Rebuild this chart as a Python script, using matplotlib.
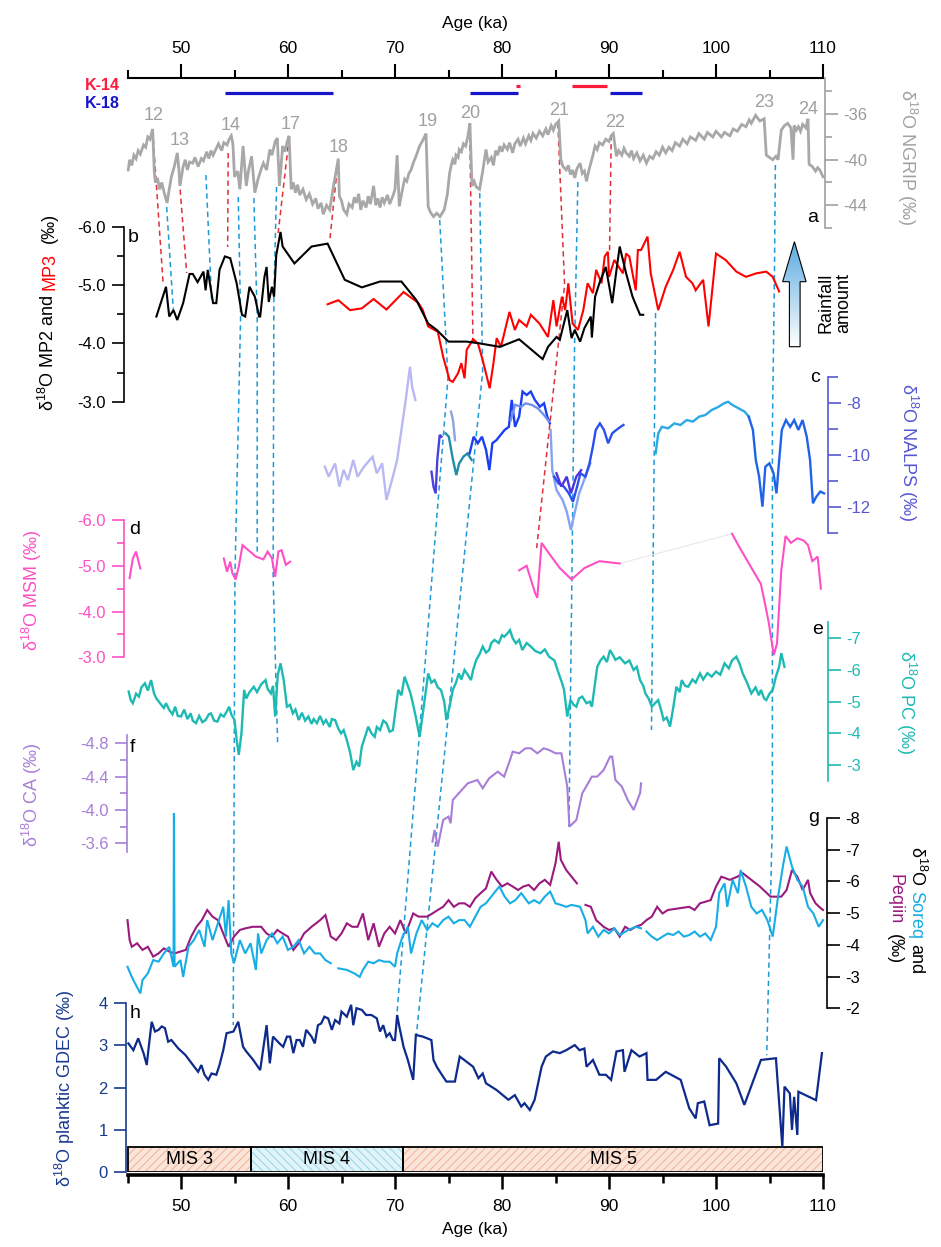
import numpy as np
import matplotlib
matplotlib.use('Agg')
import matplotlib.pyplot as plt
from matplotlib.patches import Rectangle, Polygon
from matplotlib.transforms import IdentityTransform

# Fonts
plt.rcParams['font.family'] = ['Liberation Sans', 'DejaVu Sans']
plt.rcParams['mathtext.fontset'] = 'custom'
plt.rcParams['mathtext.rm'] = 'Liberation Sans'
plt.rcParams['mathtext.it'] = 'Liberation Sans:italic'
plt.rcParams['hatch.linewidth'] = 0.6

# ---------------- data (age ka, d18O) ----------------
ngrip = [(45.07,-40.9),(45.2,-40.0),(45.4,-40.5),(45.6,-39.6),(45.8,-39.9),(46.0,-39.2),(46.2,-39.5),
         (46.5,-38.7),(46.7,-38.9),(46.9,-38.0),(47.1,-38.2),(47.35,-37.3),(47.5,-41.0),(47.6,-42.0),
         (47.8,-41.6),(48.0,-42.6),(48.2,-42.0),(48.4,-42.8),(48.7,-43.8),(48.9,-42.6),(49.1,-41.5),
         (49.4,-40.5),(49.65,-39.4),(49.8,-40.8),(49.9,-42.3),(50.2,-40.6),(50.4,-40.0),(50.6,-40.9),
         (50.8,-40.2),(51.1,-40.3),(51.3,-39.8),(51.6,-40.6),(51.9,-39.9),(52.1,-40.1),(52.4,-39.3),
         (52.6,-39.9),(52.8,-39.2),(53.0,-39.6),(53.3,-39.0),(53.5,-38.6),(53.8,-39.2),(54.0,-38.5),
         (54.3,-38.7),(54.5,-38.2),(54.7,-37.9),(54.85,-38.6),(55.0,-41.5),(55.3,-41.0),(55.5,-42.6),
         (55.8,-38.8),(56.1,-42.3),(56.3,-41.0),(56.6,-39.7),(56.9,-42.9),(57.2,-41.7),(57.5,-40.8),
         (57.7,-40.3),(58.0,-40.9),(58.3,-39.1),(58.5,-39.6),(58.8,-38.4),(59.0,-38.1),(59.2,-42.3),
         (59.5,-38.8),(59.7,-39.3),(59.9,-38.5),(60.1,-37.9),(60.3,-42.6),(60.5,-42.0),(60.7,-42.9),
         (60.9,-42.2),(61.1,-43.1),(61.4,-42.6),(61.7,-43.5),(62.0,-43.0),(62.3,-43.9),(62.6,-43.4),
         (62.8,-44.3),(63.1,-43.8),(63.3,-44.8),(63.6,-44.0),(63.9,-44.4),(64.2,-42.6),(64.5,-41.0),
         (64.7,-39.9),(64.8,-43.2),(65.0,-43.6),(65.2,-44.4),(65.5,-44.8),(65.7,-43.9),(66.0,-44.2),
         (66.2,-43.3),(66.4,-43.8),(66.6,-43.0),(66.8,-44.4),(67.0,-43.6),(67.3,-44.2),(67.5,-43.2),
         (67.7,-43.9),(68.0,-42.3),(68.2,-44.0),(68.4,-43.4),(68.6,-44.2),(68.8,-43.3),(69.0,-43.8),
         (69.3,-43.1),(69.5,-43.9),(69.8,-43.2),(70.0,-42.6),(70.2,-39.6),(70.4,-44.1),(70.7,-42.6),
         (70.9,-41.7),(71.1,-41.9),(71.3,-41.2),(71.5,-40.9),(71.7,-40.3),(72.0,-39.6),(72.3,-38.8),
         (72.6,-38.3),(72.9,-37.7),(73.1,-44.1),(73.3,-44.6),(73.6,-45.0),(73.9,-44.7),(74.2,-45.0),
         (74.6,-44.4),(74.9,-43.0),(75.1,-41.2),(75.3,-40.3),(75.4,-40.0),(75.6,-40.4),(75.7,-39.6),
         (75.9,-39.8),(76.0,-39.1),(76.2,-39.3),(76.4,-38.6),(76.6,-38.8),(76.8,-38.0),(77.0,-36.8),
         (77.2,-42.3),(77.4,-41.9),(77.6,-42.4),(77.9,-42.6),(78.2,-41.0),(78.5,-39.1),(78.7,-40.2),
         (79.0,-39.8),(79.2,-40.5),(79.4,-39.2),(79.6,-39.6),(79.8,-38.8),(80.0,-39.3),(80.2,-38.7),
         (80.5,-39.1),(80.7,-38.5),(81.0,-39.4),(81.2,-38.6),(81.5,-38.2),(81.7,-38.8),(82.0,-38.1),
         (82.2,-38.6),(82.5,-37.9),(82.7,-38.3),(82.9,-37.7),(83.2,-38.1),(83.5,-37.5),(83.8,-37.9),
         (84.1,-37.3),(84.3,-37.8),(84.6,-37.0),(84.8,-37.4),(85.0,-36.9),(85.3,-36.6),(85.5,-40.0),
         (85.7,-40.6),(86.0,-40.9),(86.2,-40.5),(86.4,-41.3),(86.6,-40.9),(86.8,-41.6),(87.0,-40.8),
         (87.3,-40.3),(87.5,-41.2),(87.7,-41.0),(87.9,-41.9),(88.1,-41.0),(88.3,-40.3),(88.5,-39.6),
         (88.7,-38.8),(88.9,-39.1),(89.1,-38.5),(89.4,-38.7),(89.7,-38.2),(90.0,-38.4),(90.2,-37.9),
         (90.4,-37.7),(90.7,-39.7),(90.9,-39.2),(91.2,-39.6),(91.4,-39.0),(91.6,-39.4),(91.9,-39.7),
         (92.1,-39.2),(92.3,-39.9),(92.6,-39.4),(92.9,-40.1),(93.2,-39.6),(93.5,-40.3),(93.8,-39.7),
         (94.1,-39.9),(94.4,-39.3),(94.7,-39.6),(95.0,-38.9),(95.3,-39.4),(95.6,-38.9),(95.9,-39.2),
         (96.2,-38.5),(96.6,-38.8),(96.9,-38.2),(97.3,-38.6),(97.6,-38.0),(98.1,-38.3),(98.4,-37.7),
         (98.9,-38.2),(99.2,-37.6),(99.7,-38.0),(100.0,-37.5),(100.5,-38.0),(100.8,-37.6),(101.3,-37.9),
         (101.6,-37.3),(102.0,-37.5),(102.4,-36.9),(102.8,-37.1),(103.1,-36.5),(103.3,-36.8),
         (103.7,-36.1),(104.1,-36.6),(104.5,-36.4),(104.7,-39.6),(105.0,-39.8),(105.3,-40.0),
         (105.6,-39.7),(105.8,-40.0),(106.1,-37.4),(106.4,-37.0),(106.7,-36.8),(107.0,-37.2),
         (107.2,-40.0),(107.3,-37.0),(107.5,-37.4),(107.7,-37.1),(107.9,-37.5),(108.1,-36.9),
         (108.4,-37.2),(108.6,-36.4),(108.7,-40.4),(109.0,-40.6),(109.3,-41.0),(109.5,-40.7),
         (109.7,-40.9),(110.0,-41.5)]
is_labels = ['12','13','14','17','18','19','20','21','22','23','24']
is_pos = [(47.4,-36.15),(49.84,-38.34),(54.64,-37.02),(60.24,-36.94),(64.75,-38.92),(73.09,-36.65),
          (77.04,-35.91),(85.32,-35.69),(90.61,-36.73),(104.52,-34.99),(108.57,-35.56)]

mp2 = [(47.7,-4.46),(48.3,-4.80),(48.6,-4.97),(48.9,-4.46),(49.3,-4.57),(49.65,-4.40),(50.2,-4.69),
       (50.8,-5.19),(51.1,-5.19),(51.55,-5.05),(52.1,-5.23),(52.3,-4.91),(52.5,-5.26),(53.0,-4.69),
       (53.3,-4.69),(53.6,-5.26),(54.1,-5.49),(54.6,-5.46),(55.2,-5.03),(55.7,-4.49),(56.0,-4.46),
       (56.4,-4.97),(56.9,-4.80),(57.3,-4.46),(57.4,-4.46),(57.8,-5.14),(58.0,-5.31),(58.2,-4.71),
       (58.5,-4.97),(58.7,-4.80),(58.9,-5.51),(59.3,-5.91),(59.5,-5.66),(60.6,-5.37),(62.2,-5.66),
       (63.7,-5.71),(65.3,-5.09),(66.9,-4.96),(68.6,-5.06),(70.6,-5.06),(72.0,-4.74),(73.1,-4.34),
       (73.9,-4.23),(75.0,-4.03),(76.7,-4.03),(77.9,-4.0),(79.8,-3.94),(81.6,-4.07),(83.8,-3.73),
       (84.3,-3.94),(85.1,-4.11),(85.4,-4.06),(86.1,-4.57),(86.5,-4.09),(86.8,-4.23),(87.3,-4.03),
       (87.7,-4.26),(88.3,-4.46),(88.4,-4.10),(88.7,-4.80),(89.1,-5.03),(89.7,-5.31),(90.3,-4.69),
       (90.7,-5.26),(91.0,-5.66),(91.6,-5.2),(92.2,-4.80),(92.9,-4.49),(93.2,-4.49)]
mp3 = [(63.7,-4.67),(64.7,-4.74),(65.8,-4.57),(66.9,-4.60),(68.0,-4.76),(69.2,-4.58),(70.8,-4.88),
       (72.2,-4.69),(72.6,-4.57),(73.1,-4.29),(74.0,-4.20),(74.5,-3.77),(75.1,-3.37),(75.4,-3.34),
       (75.9,-3.49),(76.2,-3.66),(76.5,-3.40),(76.7,-3.89),(77.3,-4.07),(77.75,-4.0),(78.2,-3.71),
       (78.85,-3.23),(79.2,-3.66),(79.5,-4.09),(79.9,-3.94),(80.7,-4.54),(81.2,-4.23),(81.6,-4.40),
       (82.3,-4.29),(82.7,-4.49),(83.5,-4.34),(84.3,-4.11),(84.8,-4.74),(85.1,-4.29),(85.6,-4.80),
       (85.9,-4.57),(86.2,-5.03),(86.6,-4.34),(87.1,-4.23),(87.6,-4.57),(88.0,-5.03),(88.5,-4.86),
       (88.8,-5.26),(89.3,-5.03),(89.6,-5.49),(89.9,-5.57),(90.0,-5.14),(90.5,-5.43),(91.3,-5.2),
       (91.6,-5.54),(91.9,-5.49),(92.5,-4.91),(92.7,-5.60),(93.0,-5.6),(93.6,-5.83),(93.9,-5.2),
       (94.6,-4.57),(95.3,-4.97),(96.0,-5.26),(96.6,-5.57),(97.2,-5.14),(97.8,-5.03),(98.1,-4.91),
       (98.8,-5.09),(99.3,-4.29),(100.0,-5.54),(100.9,-5.43),(101.9,-5.23),(102.8,-5.14),
       (103.75,-5.2),(104.7,-5.23),(105.3,-5.14),(105.9,-4.89)]

# NALPS pieces
nalps_lav = [(63.44,-10.45),(63.8,-10.83),(64.4,-10.32),(64.8,-11.21),(65.2,-10.57),(65.6,-10.96),
             (66.1,-10.19),(66.5,-10.83),(67.1,-10.45),(67.9,-10.07),(68.3,-10.70),(68.8,-10.32),
             (69.2,-11.72),(69.8,-10.83),(70.2,-10.19),(70.6,-9.04),(71.0,-7.89),(71.4,-6.62),
             (71.6,-7.38),(71.9,-7.89)]
nalps_dk = [(73.41,-10.64),(73.6,-11.21),(73.8,-11.47),(73.95,-10.19),(74.18,-9.23),(74.34,-9.30)]
nalps_gr = [(75.23,-8.34),(75.42,-8.66),(75.61,-9.43)]
nalps_teal = [(74.73,-9.17),(75.03,-9.3),(75.42,-10.19),(75.73,-10.77),(76.0,-10.32),(76.4,-10.06),
              (76.77,-9.94),(77.16,-10.19)]
nalps_blue = [(76.97,-9.94),(77.35,-9.3),(77.74,-9.55),(78.13,-9.3),(78.51,-9.81),(78.82,-10.58),
              (79.1,-9.55),(79.48,-9.43),(79.87,-9.23),(80.25,-9.04),(80.64,-8.92),(80.91,-7.89),
              (81.22,-8.92),(81.6,-8.53),(81.92,-7.57),(82.3,-7.7),(82.69,-7.57),(83.07,-7.89),
              (83.54,-8.15),(83.93,-8.02),(84.23,-8.53),(84.47,-8.79)]
nalps_lb = [(80.83,-8.66),(81.22,-8.08),(81.8,-8.15),(82.19,-8.02),(82.77,-8.08),(83.35,-8.21),
            (83.93,-8.47),(84.39,-8.72)]
nalps_peri = [(84.54,-9.04),(84.7,-10.58),(85.09,-11.34),(85.67,-11.73),(86.05,-12.17),(86.44,-12.87),
              (86.71,-12.36),(87.21,-11.47),(87.79,-10.83),(88.26,-10.32)]
nalps_b2 = [(84.89,-10.83),(85.28,-11.09),(85.78,-11.21),(86.25,-11.47),(86.63,-11.79),(87.02,-11.21),
            (87.33,-10.7),(87.79,-10.83),(88.18,-10.32),(88.49,-9.68),(88.76,-9.04),(89.15,-8.79),
            (89.53,-9.04),(89.92,-9.55),(90.3,-9.17),(90.69,-9.04),(91.08,-8.92),(91.35,-8.85)]
nalps_pb = [(85.09,-10.7),(85.55,-11.21),(86.05,-10.83),(86.44,-11.47),(86.94,-10.83),(87.4,-10.58)]
nalps_cy = [(94.36,-9.94),(94.6,-9.17),(94.94,-8.92),(95.52,-8.98),(96.1,-8.79),(96.68,-8.85),
            (97.26,-8.66),(97.84,-8.72),(98.42,-8.53),(99.0,-8.47),(99.58,-8.28),(100.16,-8.17),
            (100.74,-8.02),(101.13,-7.96),(101.52,-8.08),(102.1,-8.21),(102.68,-8.34),(103.06,-8.53)]
nalps_b3 = [(103.06,-8.53),(103.45,-9.04),(103.72,-10.19),(104.03,-10.83),(104.34,-11.98),
            (104.61,-10.45),(104.99,-10.32),(105.38,-10.7),(105.65,-11.47),(105.88,-10.32),
            (106.15,-9.04),(106.54,-8.66),(106.93,-8.92),(107.31,-8.66),(107.7,-9.04),(108.09,-8.66),
            (108.48,-9.3),(108.79,-10.19),(109.06,-11.85),(109.37,-11.6),(109.75,-11.4),(110.1,-11.47)]

msm_1 = [(45.2,-4.73),(45.5,-5.16),(45.8,-5.31),(46.2,-4.94)]
msm_2 = [(54.0,-5.16),(54.3,-4.87),(54.6,-5.09),(54.8,-4.84),(55.1,-4.70),(55.4,-4.98),(55.75,-5.45),
         (56.3,-5.34),(57.0,-5.20),(57.7,-5.14),(58.1,-5.31),(58.5,-5.16),(58.8,-4.76),(59.1,-5.31),
         (59.4,-5.34),(59.8,-5.02),(60.2,-5.09)]
msm_3 = [(81.6,-4.9),(82.3,-5.0),(83.1,-4.4),(83.3,-4.3),(83.7,-5.5),(84.3,-5.3),(85.4,-4.95),
         (86.5,-4.7),(87.7,-4.95),(89.1,-5.1),(91.0,-5.05)]
msm_4 = [(101.5,-5.7),(102.2,-5.4),(103.2,-5.0),(104.2,-4.6),(104.9,-3.8),(105.4,-3.05),(105.7,-3.3),
         (106.1,-4.9),(106.5,-5.65),(107.0,-5.5),(107.6,-5.6),(108.2,-5.55),(108.6,-5.45),(109.0,-5.1),
         (109.5,-5.2),(109.8,-4.5)]

pc = [(45.11,-5.32),(45.3,-5.05),(45.5,-4.95),(45.8,-5.25),(46.07,-5.16),(46.3,-5.45),(46.63,-5.58),
      (46.9,-5.35),(47.2,-5.68),(47.48,-5.26),(47.7,-5.1),(48.04,-4.95),(48.4,-4.8),(48.6,-4.95),
      (48.9,-4.74),(49.2,-4.6),(49.45,-4.84),(49.7,-4.55),(50.0,-4.53),(50.3,-4.75),(50.6,-4.45),
      (50.9,-4.63),(51.1,-4.4),(51.4,-4.32),(51.7,-4.55),(52.0,-4.35),(52.3,-4.42),(52.6,-4.6),
      (52.8,-4.63),(53.1,-4.4),(53.4,-4.37),(53.7,-4.6),(54.0,-4.53),(54.3,-4.7),(54.5,-4.84),
      (54.7,-4.6),(55.0,-4.42),(55.2,-3.79),(55.4,-3.32),(55.65,-4.0),(55.9,-5.37),(56.1,-5.1),
      (56.4,-5.3),(56.8,-5.47),(57.1,-5.3),(57.5,-5.55),(57.9,-5.68),(58.1,-5.4),(58.4,-5.26),
      (58.6,-5.5),(58.8,-4.53),(59.04,-5.84),(59.3,-6.21),(59.6,-5.68),(59.9,-4.84),(60.2,-4.9),
      (60.45,-4.63),(60.7,-4.75),(61.0,-4.42),(61.3,-4.65),(61.6,-4.4),(61.9,-4.53),(62.2,-4.3),
      (62.4,-4.45),(62.7,-4.32),(63.0,-4.55),(63.3,-4.3),(63.55,-4.42),(63.9,-4.2),(64.1,-4.45),
      (64.4,-4.42),(64.7,-4.15),(64.96,-4.0),(65.2,-4.1),(65.5,-3.79),(65.8,-3.4),(66.1,-2.84),
      (66.4,-3.1),(66.65,-2.95),(66.9,-3.58),(67.2,-3.9),(67.5,-4.21),(67.8,-4.0),(68.1,-3.89),
      (68.3,-4.2),(68.6,-4.1),(68.9,-4.4),(69.2,-4.32),(69.5,-4.05),(69.8,-4.1),(70.0,-4.6),
      (70.3,-5.37),(70.6,-5.2),(70.9,-5.79),(71.2,-5.5),(71.45,-5.26),(71.7,-4.9),(72.0,-4.42),
      (72.3,-3.89),(72.6,-4.63),(72.9,-5.4),(73.1,-5.89),(73.4,-5.6),(73.7,-5.68),(74.0,-5.45),
      (74.3,-5.37),(74.6,-5.0),(74.8,-4.42),(75.1,-4.84),(75.4,-5.37),(75.7,-5.6),(75.96,-5.89),
      (76.2,-5.7),(76.5,-6.0),(76.8,-5.85),(77.1,-5.68),(77.3,-6.0),(77.6,-6.32),(77.9,-6.5),
      (78.2,-6.74),(78.5,-6.55),(78.8,-6.63),(79.0,-6.85),(79.3,-6.95),(79.7,-6.85),(80.0,-7.1),
      (80.2,-7.05),(80.5,-7.15),(80.75,-7.26),(81.0,-7.0),(81.3,-6.84),(81.6,-6.95),(81.9,-6.63),
      (82.3,-6.85),(82.7,-6.74),(83.1,-6.6),(83.6,-6.53),(84.0,-6.65),(84.4,-6.42),(84.9,-6.3),
      (85.3,-5.89),(85.6,-5.6),(85.8,-5.37),(86.1,-4.53),(86.4,-5.05),(86.7,-4.9),(86.95,-4.84),
      (87.2,-5.1),(87.5,-5.16),(87.9,-4.95),(88.2,-5.0),(88.4,-4.84),(88.7,-5.6),(88.9,-6.1),
      (89.2,-6.3),(89.5,-6.42),(89.8,-6.25),(90.1,-6.63),(90.4,-6.45),(90.6,-6.32),(91.0,-6.4),
      (91.5,-6.21),(91.9,-6.3),(92.3,-6.0),(92.6,-6.1),(92.9,-5.68),(93.2,-5.5),(93.4,-5.26),
      (93.7,-5.1),(94.0,-4.84),(94.3,-4.95),(94.6,-5.05),(94.9,-4.7),(95.1,-4.42),(95.4,-4.5),
      (95.7,-4.21),(96.0,-4.8),(96.3,-5.47),(96.6,-5.3),(96.8,-5.68),(97.1,-5.5),(97.4,-5.47),
      (97.8,-5.7),(98.1,-5.6),(98.5,-5.89),(98.8,-5.7),(99.2,-5.9),(99.6,-5.79),(100.0,-5.95),
      (100.4,-5.85),(100.8,-6.21),(101.2,-6.05),(101.5,-6.3),(101.9,-6.42),(102.2,-6.2),
      (102.5,-5.89),(102.9,-5.6),(103.3,-5.26),(103.7,-5.45),(104.0,-5.2),(104.2,-5.37),
      (104.5,-5.1),(104.7,-5.05),(105.0,-5.25),(105.3,-5.37),(105.6,-5.79),(105.9,-6.1),
      (106.1,-6.53),(106.4,-6.1)]

ca = [(73.5,-3.62),(73.7,-3.76),(74.0,-3.56),(74.5,-3.88),(75.0,-3.92),(75.2,-3.84),(75.4,-4.12),
      (75.96,-4.2),(76.8,-4.32),(77.7,-4.36),(78.2,-4.26),(78.8,-4.38),(79.6,-4.46),(80.2,-4.4),
      (80.75,-4.6),(81.0,-4.7),(81.6,-4.68),(82.2,-4.74),(82.7,-4.74),(83.3,-4.68),(83.9,-4.74),
      (84.4,-4.72),(85.0,-4.68),(85.55,-4.68),(86.1,-4.28),(86.3,-3.8),(86.95,-3.88),(87.5,-4.2),
      (88.4,-4.4),(88.9,-4.4),(89.5,-4.48),(90.1,-4.64),(90.3,-4.64),(90.6,-4.36),(91.2,-4.28),
      (91.75,-4.12),(92.3,-4.0),(92.9,-4.2),(93.0,-4.32)]

peqiin_1 = [(45.0,-4.78),(45.2,-4.15),(45.4,-3.94),(45.9,-4.05),(46.4,-3.84),(46.9,-3.94),(47.4,-3.63),
            (47.9,-3.73),(48.4,-3.89),(48.9,-3.79),(49.4,-3.73),(49.95,-3.79),(50.45,-3.84),(50.95,-4.26),
            (51.45,-4.57),(51.95,-4.78),(52.45,-5.1),(52.95,-4.89),(53.45,-4.78),(53.95,-4.36),
            (54.45,-3.94),(54.95,-4.26),(55.5,-4.47),(56.0,-4.52),(56.7,-4.57),(57.5,-4.57),(58.0,-4.36),
            (58.5,-4.26),(59.0,-4.47),(59.5,-4.36),(60.0,-4.26),(60.5,-3.84),(61.0,-4.05),(61.5,-4.36),
            (62.2,-4.57),(63.0,-4.78),(63.5,-4.94),(64.0,-4.26),(64.5,-4.15),(65.0,-4.36),(65.5,-4.68),
            (66.0,-4.57),(66.5,-4.57),(67.0,-4.99),(67.5,-4.15),(68.0,-4.68),(68.5,-3.94),(69.0,-4.36),
            (69.5,-4.57),(70.0,-4.36),(70.5,-4.78),(71.0,-4.36),(71.7,-4.99),(72.2,-4.89),(73.0,-4.89),
            (73.5,-4.99),(74.0,-5.1),(74.5,-5.2),(75.0,-5.41),(75.5,-5.2),(76.0,-5.31),(76.5,-5.31),
            (77.0,-5.2),(77.5,-5.47),(78.0,-5.63),(78.5,-5.78),(79.0,-6.31),(79.5,-6.05),(80.0,-5.84),
            (80.5,-5.94),(81.0,-5.84),(81.5,-5.73),(82.0,-5.84),(82.5,-5.89),(83.0,-5.73),(83.5,-5.94),
            (84.0,-6.05),(84.5,-5.89),(85.0,-6.57),(85.3,-7.25),(85.5,-6.68),(86.0,-6.36),(86.5,-6.15),
            (87.0,-5.94)]
peqiin_2 = [(87.8,-5.26),(88.3,-5.2),(88.8,-4.78),(89.5,-4.57),(90.0,-4.47),(90.5,-4.52),(91.0,-4.26),
            (91.5,-4.57),(92.0,-4.47),(92.5,-4.57),(93.0,-4.63),(93.5,-4.78),(94.0,-4.89),(94.5,-5.2),
            (95.0,-4.99),(95.5,-5.1),(96.5,-5.15),(97.5,-5.2),(98.0,-5.1),(98.5,-5.31),(99.5,-5.41),
            (100.0,-5.84),(100.5,-6.15),(101.3,-6.05),(102.0,-6.15),(102.5,-6.26),(103.3,-6.05),
            (104.1,-5.84),(105.1,-5.52),(106.1,-5.52),(106.6,-5.73),(107.1,-6.36),(107.6,-6.15),
            (108.1,-5.73),(108.6,-6.05),(108.8,-5.63),(109.3,-5.31),(109.8,-5.15),(110.0,-5.1)]
soreq_1 = [(45.0,-3.31),(45.4,-2.99),(45.7,-2.79),(46.2,-2.47),(46.4,-2.89),(46.9,-3.1),(47.4,-3.52),
           (47.9,-3.47),(48.4,-3.73),(48.9,-3.94),(49.3,-3.31),(49.34,-8.15),(49.4,-3.31),(49.95,-3.52),
           (50.2,-2.99),(50.7,-3.94),(51.2,-4.15),(51.7,-4.47),(52.2,-3.94),(52.45,-4.78),(52.95,-4.15),
           (53.45,-4.68),(53.95,-5.2),(54.2,-4.26),(54.45,-5.41),(54.7,-3.73),(54.95,-3.42),(55.5,-4.15),
           (56.0,-3.73),(56.5,-4.05),(57.0,-3.21),(57.2,-4.36),(57.5,-3.73),(58.0,-4.15),(58.5,-4.36),
           (59.0,-4.05),(59.5,-4.26),(60.0,-3.84),(60.5,-3.94),(61.0,-4.15),(61.5,-3.73),(62.0,-3.94),
           (62.5,-3.73),(63.0,-3.73),(63.5,-3.52),(64.0,-3.42)]
soreq_2 = [(64.7,-3.26),(65.5,-3.21),(66.2,-3.1),(66.7,-2.99),(67.0,-3.21),(67.5,-3.47),(68.0,-3.42),
           (68.5,-3.52),(69.0,-3.47),(69.5,-3.47),(70.0,-3.31),(70.2,-3.73),(70.7,-4.26),(71.2,-4.57),
           (71.5,-3.73),(72.0,-4.36),(72.5,-4.78),(73.0,-4.47),(73.5,-4.68),(74.0,-4.57),(74.5,-4.78),
           (75.0,-4.89),(75.5,-4.68),(76.0,-4.78),(76.5,-4.78),(77.0,-4.57),(77.5,-4.89),(78.0,-5.2),
           (78.5,-5.31),(79.25,-5.63),(79.75,-5.84),(80.25,-5.52),(80.75,-5.31),(81.25,-5.41),
           (81.8,-5.63),(82.5,-5.31),(83.0,-5.41),(83.5,-5.31),(84.0,-5.52),(84.5,-5.68),(85.0,-5.31),
           (85.5,-5.26),(86.0,-5.2),(86.5,-5.26),(87.3,-5.2),(87.8,-4.78),(88.0,-4.36),(88.5,-4.57),
           (89.0,-4.26),(89.5,-4.47),(90.0,-4.36),(90.5,-4.52),(91.0,-4.31),(91.8,-4.47),(92.5,-4.57),
           (93.0,-4.52)]
soreq_3 = [(93.5,-4.42),(94.0,-4.26),(94.5,-4.15),(95.0,-4.26),(95.5,-4.36),(96.0,-4.31),(96.5,-4.42),
           (97.0,-4.26),(97.5,-4.31),(98.0,-4.42),(98.5,-4.26),(99.0,-4.36),(99.5,-4.15),(100.0,-4.57),
           (100.3,-5.63),(100.8,-5.94),(101.05,-5.2),(101.55,-6.05),(102.05,-5.63),(102.3,-6.36),
           (102.8,-5.84),(103.3,-5.2),(103.8,-4.99),(104.3,-5.1),(104.8,-4.78),(105.3,-4.26),
           (105.8,-5.52),(106.3,-6.57),(106.6,-7.1),(107.1,-6.47),(107.6,-6.05),(108.1,-5.84),
           (108.6,-5.2),(109.1,-4.99),(109.6,-4.57),(110.0,-4.78)]

gdec = [(45.08,3.04),(45.55,2.88),(46.0,3.16),(46.5,2.81),(46.8,2.53),(46.95,2.88),(47.26,3.55),
        (47.57,3.32),(47.9,3.36),(48.2,3.44),(48.5,3.40),(48.8,3.08),(49.1,3.12),(49.75,2.92),
        (50.4,2.77),(51.0,2.57),(51.6,2.37),(51.9,2.53),(52.2,2.30),(52.55,2.18),(52.85,2.33),
        (53.3,2.30),(53.6,2.53),(53.95,2.88),(54.26,3.28),(54.9,3.32),(55.35,3.55),(55.8,2.96),
        (56.1,2.85),(56.75,2.65),(57.4,2.41),(58.0,3.47),(58.3,2.57),(58.6,3.20),(59.2,3.04),
        (59.55,2.96),(59.9,3.20),(60.2,3.20),(60.5,2.81),(60.8,3.12),(61.1,3.12),(61.4,2.96),
        (61.7,3.36),(62.2,3.20),(62.5,3.04),(62.8,3.47),(63.1,3.51),(63.4,3.67),(63.75,3.63),
        (64.1,3.36),(64.4,3.59),(64.8,3.51),(65.0,3.79),(65.5,3.67),(65.9,3.95),(66.1,3.47),
        (66.4,3.87),(66.9,3.83),(67.3,3.71),(67.8,3.71),(68.3,3.63),(68.6,3.32),(68.9,3.47),
        (69.2,3.20),(69.5,3.28),(69.8,3.12),(70.0,3.12),(70.2,3.71),(70.4,3.44),(70.8,2.96),
        (71.2,2.65),(71.7,2.18),(71.95,3.24),(72.6,3.20),(73.4,3.12),(73.6,2.65),(73.9,2.49),
        (74.2,2.37),(74.8,2.14),(75.6,2.14),(76.05,2.73),(77.3,2.49),(77.8,2.22),(78.2,2.33),
        (78.5,2.10),(79.5,1.94),(80.6,1.71),(81.2,1.82),(81.8,1.55),(82.1,1.63),(82.6,1.47),
        (83.05,1.71),(83.7,2.49),(84.1,2.73),(84.76,2.85),(85.4,2.81),(86.0,2.88),(86.8,3.0),
        (87.25,2.88),(87.7,2.92),(87.9,2.49),(88.5,2.65),(89.1,2.30),(89.7,2.30),(90.2,2.18),
        (90.7,2.85),(91.3,2.88),(91.45,2.37),(92.1,2.88),(92.85,2.73),(93.5,2.81),(93.6,2.18),
        (94.4,2.18),(95.3,2.37),(96.1,2.26),(96.7,2.18),(97.5,1.51),(98.1,1.27),(98.3,1.63),
        (98.9,1.67),(99.4,1.11),(100.2,1.15),(100.3,2.69),(100.95,2.49),(101.9,2.10),(102.65,1.59),
        (104.2,2.65),(105.6,2.69),(106.2,0.6),(106.4,2.02),(106.9,1.86),(107.1,1.0),(107.3,1.78),
        (107.6,0.88),(107.7,1.90),(109.35,1.70),(109.9,2.81)]

# marine isotope stages and U-Th sample age windows
mis_names = ['MIS 3', 'MIS 4', 'MIS 5']
mis_bounds = [(45.0, 56.5), (56.5, 70.75), (70.75, 110.0)]
k14_spans = [(81.35, 81.65), (86.5, 89.8)]
k18_spans = [(54.1, 64.2), (77.0, 81.5), (90.1, 93.1)]

# tie points (age, figure row in px) for the dashed correlation lines
ties_red = [[(47.35,130),(48.34,285)], [(49.65,153),(50.53,273)], [(54.41,153),(54.36,247)],
            [(60.11,137),(59.08,233)], [(64.68,160),(63.91,240)], [(76.98,127),(77.29,343)],
            [(85.22,123),(85.85,285),(83.24,548)], [(90.21,135),(90.05,253)]]
ties_blue = [[(48.66,207),(49.28,310)], [(52.33,175),(52.86,300)],
             [(55.35,197),(55.57,317),(55.04,577),(54.88,1025)],
             [(56.81,198),(57.12,317),(57.12,553)],
             [(58.93,187),(58.68,297),(58.61,577),(59.03,743)],
             [(74.18,220),(74.95,378),(70.19,1013)], [(77.92,193),(78.19,372),(72.0,1035)],
             [(87.09,182),(86.78,347),(86.26,827)], [(94.35,313),(93.97,730)],
             [(105.55,165),(105.46,276),(105.27,430),(105.27,820),(104.74,1055)]]

# ---------------- layout ----------------
W, H = 941, 1247
X0, X1 = 127.5, 823.0
PPK = (X1 - X0) / 65.0

fig = plt.figure(figsize=(W / 100, H / 100), dpi=100)
fig.patch.set_facecolor('white')

ov = fig.add_axes([0, 0, 1, 1], zorder=0)
ov.set_xlim(45 - X0 / PPK, 45 + (W - X0) / PPK)
ov.set_ylim(H, 0)
ov.axis('off')


def panel(top, bottom, ylim):
    ax = fig.add_axes([X0 / W, 1 - bottom / H, (X1 - X0) / W, (bottom - top) / H], zorder=1)
    ax.set_xlim(45, 110)
    ax.set_ylim(*ylim)
    ax.patch.set_visible(False)
    for s in ax.spines.values():
        s.set_visible(False)
    ax.tick_params(axis='both', which='both', bottom=False, labelbottom=False, left=False,
                   labelleft=False, top=False, labeltop=False, right=False, labelright=False)
    return ax


def yaxis(ax, side, color, offset, major, minor, labels, bounds=None, tcolor=None):
    sp = ax.spines[side]
    sp.set_visible(True)
    sp.set_color(color)
    sp.set_linewidth(1.2)
    sp.set_position(('outward', offset))
    if bounds:
        sp.set_bounds(*bounds)
    ax.set_yticks(major)
    ax.set_yticklabels(labels)
    ax.set_yticks(minor, minor=True)
    left = side == 'left'
    ax.tick_params(axis='y', which='both', left=left, labelleft=left, right=not left,
                   labelright=not left, direction='out', width=1.2, color=color,
                   labelcolor=tcolor or color, labelsize=12, pad=4)
    ax.tick_params(axis='y', which='major', length=9)
    ax.tick_params(axis='y', which='minor', length=5)


def plot(ax, data, color, lw=1.3, z=3):
    a, v = np.array(data).T
    ax.plot(a, v, color=color, lw=lw, clip_on=False, zorder=z, solid_joinstyle='miter')


# a: NGRIP
ax_a = panel(78, 228, (-45.95, -32.82))
yaxis(ax_a, 'right', '#a0a0a0', 1.4, [-36, -40, -44], [-34, -38, -42, -46],
      ['-36', '-40', '-44'], tcolor='#9a9a9a')
ax_a.spines['top'].set_visible(True)
ax_a.spines['top'].set_linewidth(1.5)
ax_a.set_xticks(range(50, 111, 10))
ax_a.set_xticks(range(45, 110, 10), minor=True)
ax_a.tick_params(axis='x', which='both', top=True, labeltop=True, direction='out', width=1.5,
                 labelsize=12.5, pad=6)
ax_a.tick_params(axis='x', which='major', length=10)
ax_a.tick_params(axis='x', which='minor', length=6)
ax_a.xaxis.set_label_position('top')
ax_a.set_xlabel('Age (ka)', fontsize=12.5, labelpad=9)
plot(ax_a, ngrip, '#a8a8a8', lw=2.0)
for lab, (x, y) in zip(is_labels, is_pos):
    ax_a.text(x, y, lab, color='#a0a0a0', fontsize=13, ha='center', va='center')

# b: MP2 / MP3
ax_b = panel(226.7, 401.7, (-3.0, -6.0))
yaxis(ax_b, 'left', 'black', 2.5, [-6, -5, -4, -3], [-5.5, -4.5, -3.5],
      ['-6.0', '-5.0', '-4.0', '-3.0'])
plot(ax_b, mp3, '#ff0000', lw=1.5, z=3)
plot(ax_b, mp2, 'black', lw=1.5, z=4)

# c: NALPS
ax_c = panel(376.7, 533.3, (-13, -7))
yaxis(ax_c, 'right', '#5656d4', 3.6, [-8, -10, -12], [-7, -9, -11, -13], ['-8', '-10', '-12'])
ax_c.tick_params(axis='y', which='minor', length=7)
for seg, col in [(nalps_lav, '#b8b8f2'), (nalps_dk, '#4b3fe0'), (nalps_gr, '#8fa3dd'),
                 (nalps_teal, '#1f8ca8'), (nalps_blue, '#1a3ff2'), (nalps_lb, '#7090f0'),
                 (nalps_peri, '#86a2f2'), (nalps_b2, '#2a4ff0'), (nalps_pb, '#4a35e0'),
                 (nalps_cy, '#29aae6'), (nalps_b3, '#1f63ea')]:
    plot(ax_c, seg, col, lw=1.7)

# d: MSM
ax_d = panel(520, 657.3, (-3.0, -6.0))
yaxis(ax_d, 'left', '#ff4fc6', 2.5, [-6, -5, -4, -3], [-5.5, -4.5, -3.5],
      ['-6.0', '-5.0', '-4.0', '-3.0'])
for seg in (msm_1, msm_2, msm_3, msm_4):
    plot(ax_d, seg, '#ff4fc6', lw=1.5)
gap_a, gap_v = np.array([msm_3[-1], msm_4[0]]).T
ax_d.plot(gap_a, gap_v, color='#e8e8e8', lw=0.8, zorder=2)

# e: PC
ax_e = panel(638.3, 765, (-3, -7))
yaxis(ax_e, 'right', '#1dbab3', 3.6, [-7, -6, -5, -4, -3], [], ['-7', '-6', '-5', '-4', '-3'],
      bounds=(-7.5, -2.5))
plot(ax_e, pc, '#1dbab3', lw=1.7)

# f: CA
ax_f = panel(743.3, 843.3, (-3.6, -4.8))
yaxis(ax_f, 'left', '#a77fd8', 0.4, [-4.8, -4.4, -4.0, -3.6], [-4.6, -4.2, -3.8],
      ['-4.8', '-4.4', '-4.0', '-3.6'], bounds=(-4.9, -3.5))
plot(ax_f, ca, '#a77fd8', lw=1.5)

# g: Soreq and Peqiin
ax_g = panel(818, 1008.3, (-2, -8))
yaxis(ax_g, 'right', 'black', 2.9, [-8, -7, -6, -5, -4, -3, -2], [],
      ['-8', '-7', '-6', '-5', '-4', '-3', '-2'])
for seg in (peqiin_1, peqiin_2):
    plot(ax_g, seg, '#9a1a7e', lw=1.5, z=3)
for seg in (soreq_1, soreq_2, soreq_3):
    plot(ax_g, seg, '#17ade6', lw=1.5, z=4)

# h: GDEC + bottom age axis
ax_h = panel(1002.7, 1172.3, (0, 4))
yaxis(ax_h, 'left', '#1a3a8f', 1.1, [0, 1, 2, 3, 4], [], ['0', '1', '2', '3', '4'])
ax_h.spines['bottom'].set_visible(True)
ax_h.spines['bottom'].set_linewidth(2.6)
ax_h.spines['bottom'].set_position(('outward', 2))
ax_h.set_xticks(range(50, 111, 10))
ax_h.set_xticks(range(45, 110, 10), minor=True)
ax_h.tick_params(axis='x', which='both', bottom=True, labelbottom=True, direction='out',
                 width=1.8, labelsize=12.5, pad=7)
ax_h.tick_params(axis='x', which='major', length=10)
ax_h.tick_params(axis='x', which='minor', length=6)
ax_h.set_xlabel('Age (ka)', fontsize=12.5, labelpad=6)
hatch_face = {'MIS 3': ('#fbe4d8', '#eea98a', '////'), 'MIS 4': ('#dff3f8', '#8ccfe3', '\\\\\\\\'),
              'MIS 5': ('#fbe4d8', '#eea98a', '////')}
for name, (s, e) in zip(mis_names, mis_bounds):
    fc, hc, hatch = hatch_face[name]
    ax_h.add_patch(Rectangle((s, 0), e - s, 0.6, facecolor=fc, edgecolor=hc, hatch=hatch, lw=0,
                             zorder=2))
    ax_h.add_patch(Rectangle((s, 0), e - s, 0.6, facecolor='none', edgecolor='black', lw=1.3,
                             zorder=2.5))
    ax_h.text((s + e) / 2, 0.3, name, ha='center', va='center', fontsize=13, zorder=3)
plot(ax_h, gdec, '#0d2a8c', lw=1.6, z=4)

# ---------------- overlay: ties, bars, arrow, labels ----------------
for line in ties_red:
    a, y = np.array(line).T
    ov.plot(a, y, color='#e0303c', lw=1.1, dashes=(3.5, 2.5))
for line in ties_blue:
    a, y = np.array(line).T
    ov.plot(a, y, color='#1e9ad8', lw=1.1, dashes=(3.5, 2.5))

for s, e in k14_spans:
    ov.plot([s, e], [85.5, 85.5], color='#ff1a3c', lw=2.3, solid_capstyle='butt')
for s, e in k18_spans:
    ov.plot([s, e], [93, 93], color='#1515cc', lw=2.3, solid_capstyle='butt')
ov.text(44.3, 85, 'K-14', color='#ff1a3c', fontsize=11.5, fontweight='bold', ha='right', va='center')
ov.text(44.3, 103, 'K-18', color='#1515cc', fontsize=11.5, fontweight='bold', ha='right', va='center')

# rainfall arrow with a vertical blue-to-white gradient
arrow_pts = [(107.33, 241.7), (108.42, 281.7), (107.86, 281.7), (107.86, 346.7), (106.86, 346.7),
             (106.86, 281.7), (106.23, 281.7)]
poly = Polygon(arrow_pts, closed=True, facecolor='none', edgecolor='black', lw=0.8, zorder=3)
ov.add_patch(poly)
t = np.linspace(0, 1, 200)[:, None, None]
top_col = np.array([0.36, 0.67, 0.88])
grad = (1 - t) * top_col + t * np.array([1.0, 1.0, 1.0])
im = ov.imshow(grad, extent=(106.2, 108.45, 346.7, 241.7), origin='upper', aspect='auto', zorder=2)
im.set_clip_path(poly)
ov.set_xlim(45 - X0 / PPK, 45 + (W - X0) / PPK)
ov.set_ylim(H, 0)
ov.text(111.1, 303, 'Rainfall\namount', rotation=90, ha='center', va='center', multialignment='left',
        fontsize=13, linespacing=1.0)

for lab, x, y in [('a', 109.05, 218), ('b', 45.55, 238), ('c', 109.25, 377), ('d', 45.7, 530),
                  ('e', 109.5, 630), ('f', 45.5, 747), ('g', 109.1, 818), ('h', 45.7, 1013)]:
    ov.text(x, y, lab, fontsize=14, ha='center', va='center')

d18 = 'δ$^{18}$O'
ov.text(45 + (907 - X0) / PPK, 157, d18 + ' NGRIP (‰)', rotation=270, color='#a0a0a0',
        fontsize=13, ha='center', va='center')
ov.text(45 + (908 - X0) / PPK, 452, d18 + ' NALPS (‰)', rotation=270, color='#5656d4',
        fontsize=13, ha='center', va='center')
ov.text(45 + (32 - X0) / PPK, 590, d18 + ' MSM (‰)', rotation=90, color='#ff4fc6',
        fontsize=13, ha='center', va='center')
ov.text(45 + (906 - X0) / PPK, 702, d18 + ' PC (‰)', rotation=270, color='#1dbab3',
        fontsize=13, ha='center', va='center')
ov.text(45 + (32 - X0) / PPK, 795, d18 + ' CA (‰)', rotation=90, color='#a77fd8',
        fontsize=13, ha='center', va='center')
ov.text(45 + (65 - X0) / PPK, 1088, d18 + ' planktic GDEC (‰)', rotation=90, color='#1a3a8f',
        fontsize=13, ha='center', va='center')


def rich_label(parts, x_base, y_center, rotation, size=13):
    # parts laid end to end along a rotated baseline; x_base/y_center in figure pixels
    r = fig.canvas.get_renderer()
    sign = 1 if rotation == 90 else -1
    items = []
    for s, c, gap in parts:
        tx = fig.text(0, 0, s, color=c, fontsize=size, rotation=rotation, rotation_mode='anchor',
                      ha='left', va='baseline', transform=IdentityTransform())
        items.append((tx, tx.get_window_extent(r).height + gap))
    total = sum(L for _, L in items) - items[-1][1] + items[-1][0].get_window_extent(r).height
    pos = (H - y_center) - sign * total / 2
    for tx, L in items:
        tx.set_position((x_base, pos))
        pos += sign * L


sp = 5
rich_label([(d18 + ' MP2 and', 'black', sp), ('MP3', '#ff0000', sp * 2), ('(‰)', 'black', 0)],
           54, 312, 90)
rich_label([(d18, 'black', sp), ('Soreq', '#17ade6', sp), ('and', 'black', 0)], 911, 910, 270)
rich_label([('Peqiin', '#9a1a7e', sp * 2), ('(‰)', 'black', 0)], 890, 919, 270)

fig.savefig('out.png', dpi=100)
